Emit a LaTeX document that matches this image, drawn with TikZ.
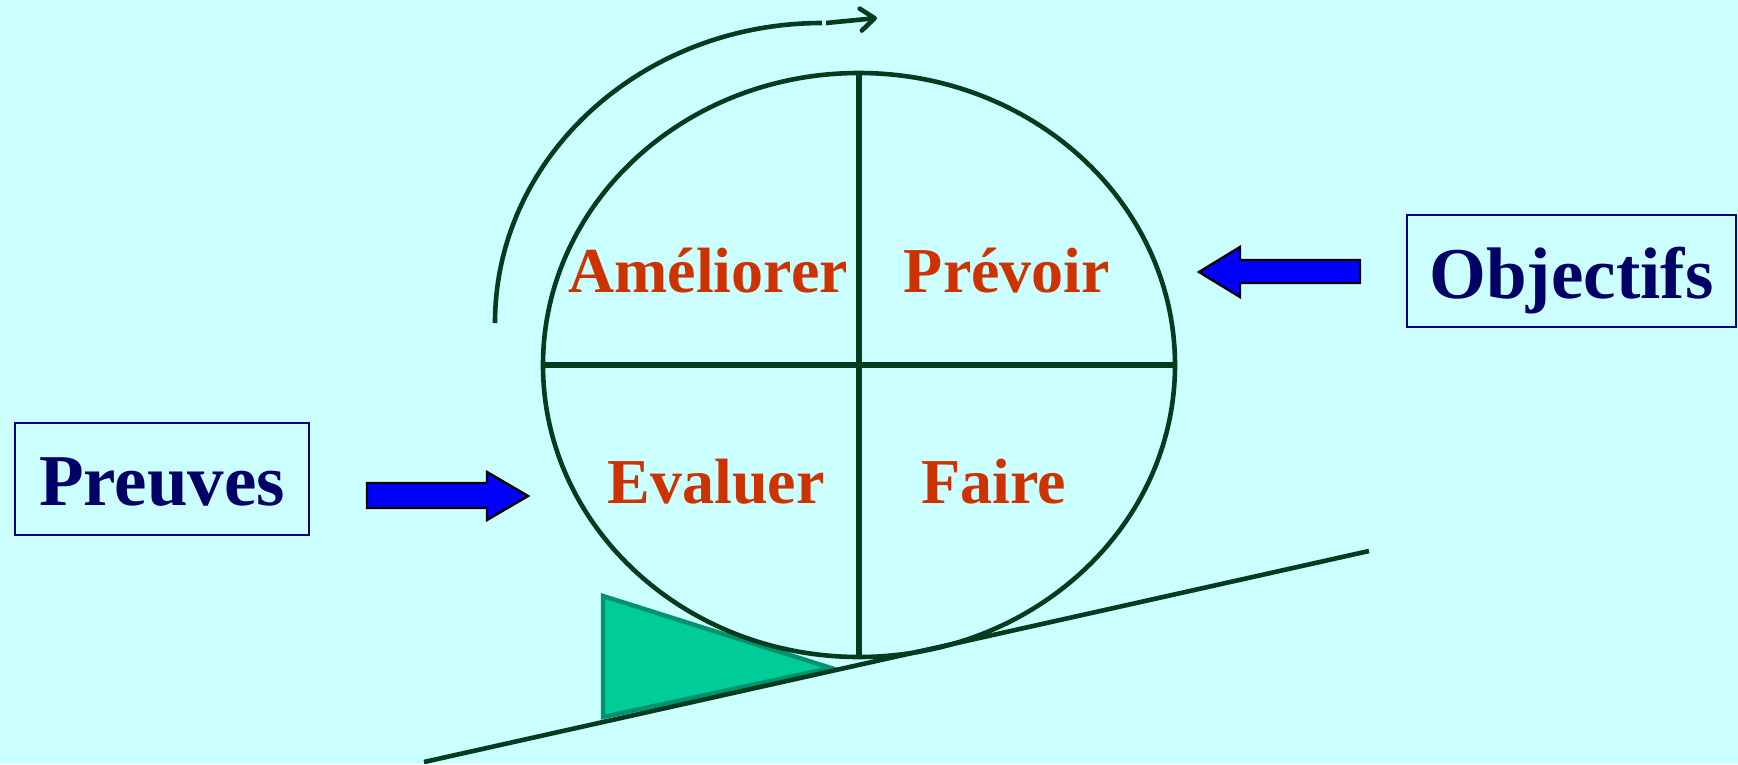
\documentclass[tikz,border=0pt]{standalone}
\usepackage{fontspec}
\setmainfont{Liberation Serif}
\usetikzlibrary{shapes.geometric,arrows.meta}
\definecolor{bgc}{HTML}{CCFFFF}
\definecolor{linec}{HTML}{003D1F}
\definecolor{labc}{HTML}{CC3300}
\definecolor{navyc}{HTML}{000066}
\definecolor{boxc}{HTML}{000080}
\definecolor{trifill}{HTML}{00CC99}
\definecolor{tridraw}{HTML}{00936E}
\definecolor{bluec}{HTML}{0000FF}
\tikzset{
  cyc/.style={draw=linec, line width=4.6pt},
  cross/.style={draw=linec, line width=5.4pt},
  quad/.style={text=labc, font=\fontsize{64}{70}\selectfont\bfseries, inner sep=0pt, anchor=base},
  inbox/.style={draw=boxc, line width=2.8pt, text=navyc, font=\fontsize{73}{80}\selectfont\bfseries, inner sep=0pt, minimum height=112pt},
  blockarrow/.style={fill=bluec, draw=black, line width=2.4pt, line join=miter},
}
\begin{document}
\begin{tikzpicture}[x=1pt,y=-1pt]
\fill[bgc] (0,0) rectangle (1738,764);
\useasboundingbox (0,0) rectangle (1738,764);
% wedge
\filldraw[fill=trifill, draw=tridraw, line width=4.5pt, line join=miter] (603,596) -- (603,717) -- (831,668) -- cycle;
% incline
\coordinate (incA) at (424,762);
\coordinate (incB) at (1369,551);
\draw[cyc] (incA) -- (incB);
% wheel
\node[cyc, ellipse, minimum width=632pt, minimum height=584pt, inner sep=0pt] (E) at (859,365) {};
\draw[cross] (E.north) -- (E.south);
\draw[cross] (E.west) -- (E.east);
% rotation arrow
\coordinate (r0) at (495,323);
\coordinate (r1) at (826,23);
\coordinate (r2) at (877,18);
\draw[cyc] (r0) arc[start angle=180, end angle=270, x radius=327, y radius=300];
\draw[cyc, -{Straight Barb[length=14pt,width=22pt,round]}] (r1) -- (r2);
% labels
\node[quad] (ame) at (708,292) {Améliorer};
\node[quad] (pre) at (1007,292) {Prévoir};
\node[quad] (eva) at (716,503) {Evaluer};
\node[quad] (fai) at (994,503) {Faire};
% boxes
\node[inbox, minimum width=294pt, text height=52pt, text depth=0pt] (P) at (162,479) {Preuves};
\node[inbox, minimum width=329pt, text height=54pt, text depth=0pt] (O) at (1571.5,271) {Objectifs};
% block arrows
\filldraw[blockarrow] (367,483) -- (487,483) -- (487,472) -- (528,496) -- (487,520) -- (487,508) -- (367,508) -- cycle;
\filldraw[blockarrow] (1360,260) -- (1240,260) -- (1240,247) -- (1199,272) -- (1240,297) -- (1240,283) -- (1360,283) -- cycle;
\end{tikzpicture}
\end{document}
